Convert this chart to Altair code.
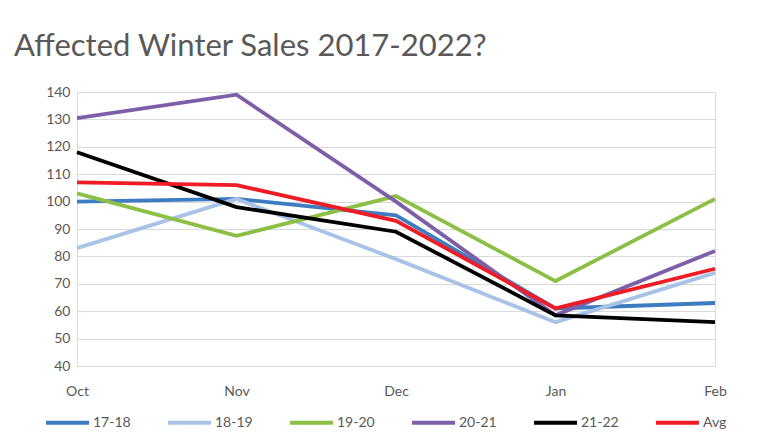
import altair as alt
import pandas as pd

months = ["Oct", "Nov", "Dec", "Jan", "Feb"]
series_names = ["17-18", "18-19", "19-20", "20-21", "21-22", "Avg"]
s1718 = [100, 101, 95, 61, 63]
s1819 = [83, 101, 79, 56, 74]
s1920 = [103, 87.5, 102, 71, 101]
s2021 = [130.5, 139, 100, 58.5, 82]
s2122 = [118, 98, 89, 58.5, 56]
savg = [107, 106, 93, 61, 75.5]
colors = ["#3d7cc1", "#a8c3e5", "#8bbf45", "#7d5fa8", "#000000", "#ee1c25"]
y_ticks = [40, 50, 60, 70, 80, 90, 100, 110, 120, 130, 140]

FONT = "Lato"

all_series = [s1718, s1819, s1920, s2021, s2122, savg]
rows = []
for name, vals in zip(series_names, all_series):
    for m, v in zip(months, vals):
        rows.append({"Month": m, "Series": name, "Value": v})
df = pd.DataFrame(rows)

base = alt.Chart(df).mark_line(strokeWidth=3.8).encode(
    x=alt.X("Month:N", sort=months, scale=alt.Scale(type="point", padding=0),
            axis=alt.Axis(title=None, domain=False, ticks=False, grid=False,
                          labelAngle=0, labelPadding=18, labelFontSize=14,
                          labelColor="#595959", labelFont=FONT)),
    y=alt.Y("Value:Q", scale=alt.Scale(domain=[40, 140], nice=False),
            axis=alt.Axis(title=None, domain=False, ticks=False, values=y_ticks,
                          gridColor="#d9d9d9", gridWidth=1, labelPadding=7,
                          labelFontSize=14, labelColor="#595959",
                          labelFont=FONT)),
    color=alt.Color("Series:N", sort=series_names,
                    scale=alt.Scale(domain=series_names, range=colors),
                    legend=alt.Legend(title=None, orient="none", direction="horizontal",
                                      columns=6, legendX=-33, legendY=307,
                                      symbolType="stroke", symbolSize=1849,
                                      symbolStrokeWidth=4, labelOffset=2,
                                      labelFontSize=14, labelColor="#595959",
                                      labelFont=FONT,
                                      columnPadding=29)),
)

layers = [base.transform_filter(alt.datum.Series == s) for s in series_names]

chart = alt.layer(*layers).properties(
    width=638, height=274,
    title=alt.TitleParams("Affected  Winter Sales 2017-2022?", anchor="start",
                          frame="group", dx=-63, offset=22, fontSize=31,
                          font=FONT, fontWeight="normal",
                          color="#595959"),
    autosize=alt.AutoSizeParams(type="none"),
    padding={"left": 69, "top": 84, "right": 50, "bottom": 75},
).configure_view(stroke=None).configure(background="white")

chart.save("out.html", embed_options={"renderer": "svg", "actions": False})
